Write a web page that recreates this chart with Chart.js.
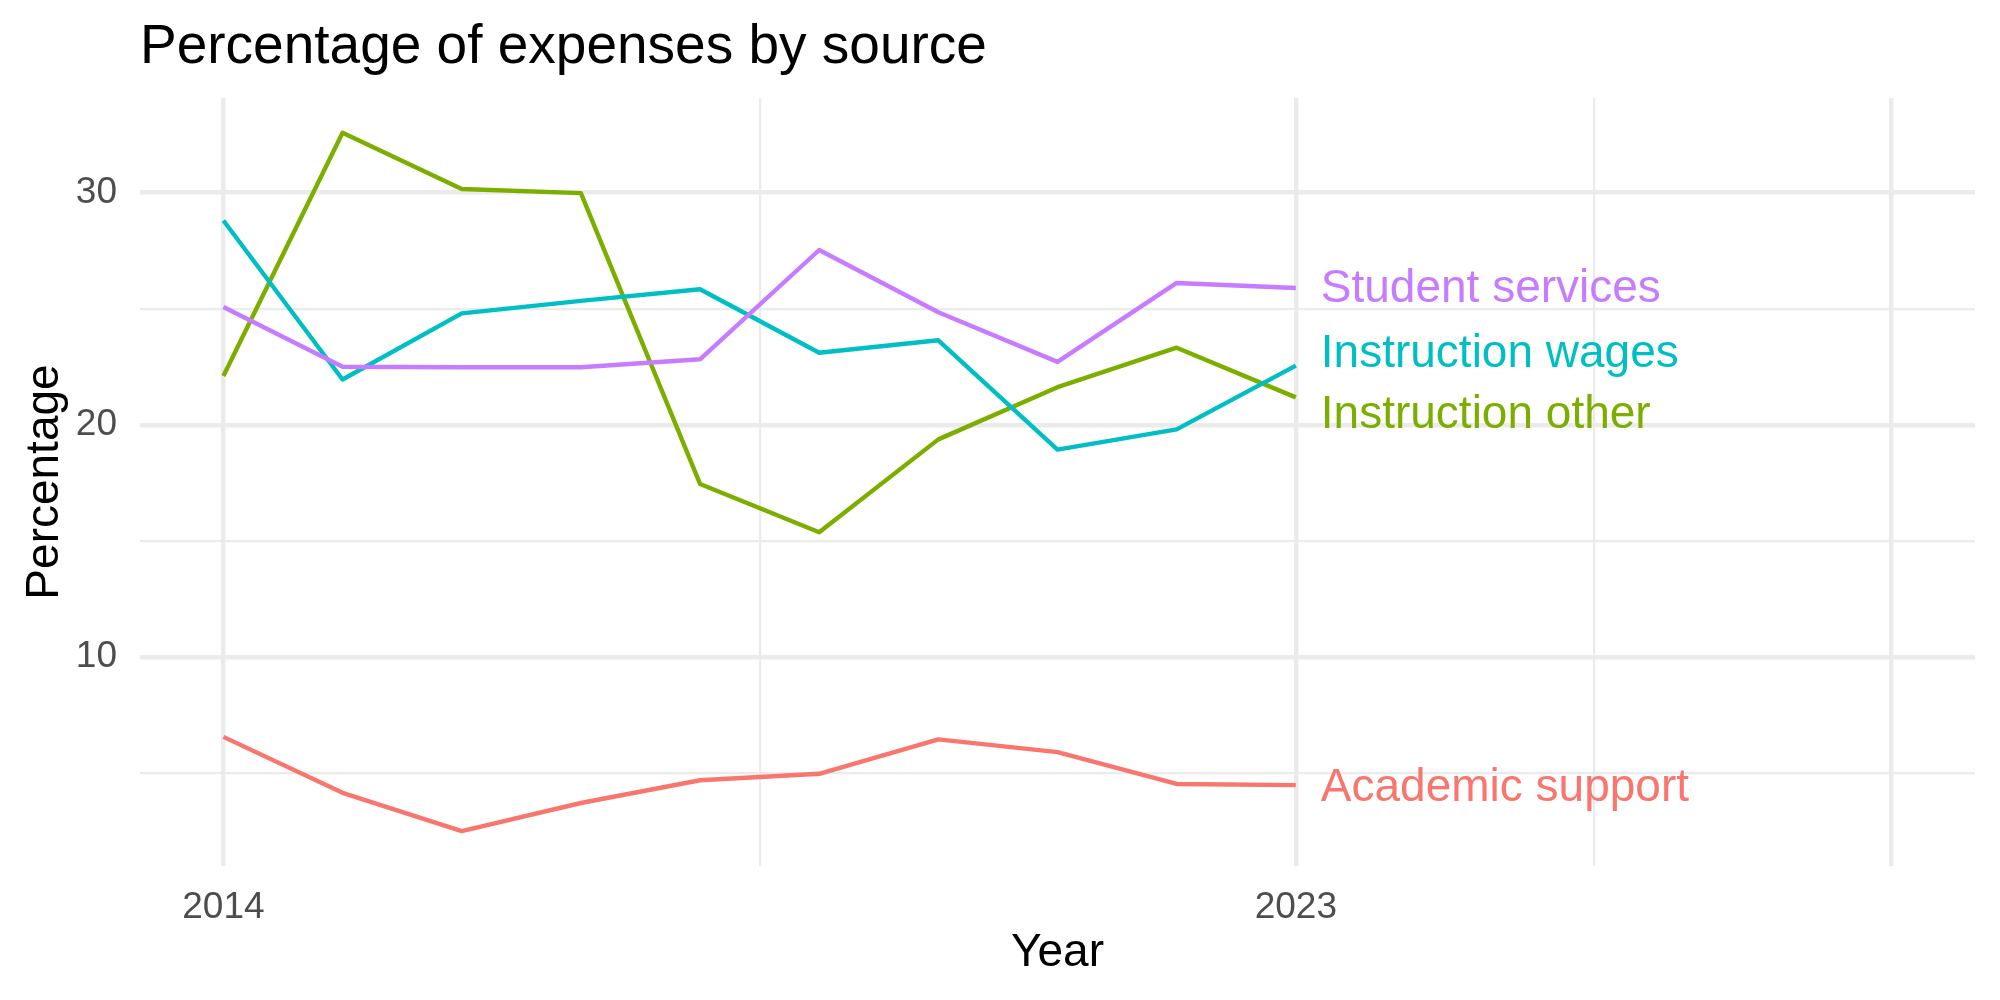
<!DOCTYPE html>
<html>
<head>
<meta charset="utf-8">
<script src="https://cdn.jsdelivr.net/npm/chart.js@4.4.1/dist/chart.umd.min.js"></script>
<style>
  html, body { margin: 0; padding: 0; background: #ffffff; }
  #wrap { width: 2000px; height: 1000px; }
</style>
</head>
<body>
<div id="wrap"><canvas id="c" width="2000" height="1000"></canvas></div>
<script>
// ---- data ----
const years = [2014, 2015, 2016, 2017, 2018, 2019, 2020, 2021, 2022, 2023];
const seriesNames = ["Academic support", "Instruction other", "Instruction wages", "Student services"];
const academicSupport  = [6.55, 4.14, 2.49, 3.70, 4.68, 4.96, 6.44, 5.89, 4.52, 4.47];
const instructionOther = [22.10, 32.58, 30.16, 29.98, 17.45, 15.37, 19.37, 21.62, 23.32, 21.18];
const instructionWages = [28.80, 21.95, 24.80, 25.34, 25.84, 23.10, 23.64, 18.93, 19.80, 22.55];
const studentServices  = [25.07, 22.50, 22.48, 22.48, 22.82, 27.53, 24.85, 22.71, 26.11, 25.89];
const seriesColors = ["#F8766D", "#7CAE00", "#00BFC4", "#C77CFF"];
// end-of-line label heights (after label repelling)
const labelValues = [4.48, 20.57, 23.22, 25.98];
const xTickValues = [2014, 2018.5, 2023, 2025.5, 2028];
const xTickLabels = ["2014", "", "2023", "", ""];
const xTickMajor  = [true, false, true, false, true];
const yTickValues = [5, 10, 15, 20, 25, 30];
const yTickLabels = ["", "10", "", "20", "", "30"];

const FONT = "'Liberation Sans', Arial, Helvetica, sans-serif";
const seriesValues = [academicSupport, instructionOther, instructionWages, studentServices];

const datasets = seriesNames.map((name, i) => ({
  label: name,
  data: years.map((y, j) => ({ x: y, y: seriesValues[i][j] })),
  borderColor: seriesColors[i],
  backgroundColor: seriesColors[i],
  borderWidth: 4.4,
  pointRadius: 0,
  tension: 0,
  fill: false,
  borderJoinStyle: 'round',
  borderCapStyle: 'butt',
  order: seriesNames.length - i
}));

const textPlugin = {
  id: 'texts',
  afterDatasetsDraw(chart) {
    const ctx = chart.ctx;
    const xs = chart.scales.x, ys = chart.scales.y;
    ctx.save();
    ctx.font = `46px ${FONT}`;
    ctx.textAlign = 'left';
    ctx.textBaseline = 'alphabetic';
    const lastYear = years[years.length - 1];
    seriesNames.forEach((name, i) => {
      ctx.fillStyle = seriesColors[i];
      const px = xs.getPixelForValue(lastYear) + 25;
      const py = ys.getPixelForValue(labelValues[i]) + 16.5;
      ctx.fillText(name, px, py);
    });
    ctx.restore();
  },
  afterDraw(chart) {
    const ctx = chart.ctx;
    const a = chart.chartArea;
    ctx.save();
    ctx.fillStyle = '#000000';
    ctx.font = `55px ${FONT}`;
    ctx.textAlign = 'left';
    ctx.textBaseline = 'alphabetic';
    ctx.fillText('Percentage of expenses by source', 140, 63);
    ctx.font = `46px ${FONT}`;
    ctx.textAlign = 'center';
    ctx.fillText('Year', (a.left + a.right) / 2, 966);
    ctx.translate(58, (a.top + a.bottom) / 2);
    ctx.rotate(-Math.PI / 2);
    ctx.fillText('Percentage', 0, 0);
    ctx.restore();
  }
};

new Chart(document.getElementById('c'), {
  type: 'line',
  data: { datasets },
  plugins: [textPlugin],
  options: {
    responsive: false,
    devicePixelRatio: 1,
    animation: false,
    layout: { padding: { top: 98, right: 25, left: 0, bottom: 0 } },
    plugins: { legend: { display: false }, tooltip: { enabled: false }, title: { display: false } },
    scales: {
      x: {
        type: 'linear',
        min: 2013.3,
        max: 2028.7,
        afterBuildTicks(scale) { scale.ticks = xTickValues.map(v => ({ value: v })); },
        afterFit(scale) { scale.height = 134; },
        ticks: {
          autoSkip: false, maxRotation: 0, minRotation: 0,
          padding: 20,
          color: '#4D4D4D',
          font: { family: FONT, size: 37 },
          callback(value) { const k = xTickValues.indexOf(value); return k >= 0 ? xTickLabels[k] : ''; }
        },
        grid: {
          color: '#EBEBEB',
          drawTicks: false,
          lineWidth(ctx) { const v = ctx.tick ? ctx.tick.value : 0; const k = xTickValues.indexOf(v); return k >= 0 && xTickMajor[k] ? 4.4 : 2.2; }
        },
        border: { display: false }
      },
      y: {
        type: 'linear',
        min: 0.9855,
        max: 34.08,
        afterBuildTicks(scale) { scale.ticks = yTickValues.map(v => ({ value: v })); },
        afterFit(scale) { scale.width = 140; },
        ticks: {
          autoSkip: false,
          padding: 23,
          color: '#4D4D4D',
          font: { family: FONT, size: 37 },
          callback(value) { const k = yTickValues.indexOf(value); return k >= 0 ? yTickLabels[k] : ''; }
        },
        grid: {
          color: '#EBEBEB',
          drawTicks: false,
          lineWidth(ctx) { const v = ctx.tick ? ctx.tick.value : 0; return v % 10 === 0 ? 4.4 : 2.2; }
        },
        border: { display: false }
      }
    }
  }
});
</script>
</body>
</html>
